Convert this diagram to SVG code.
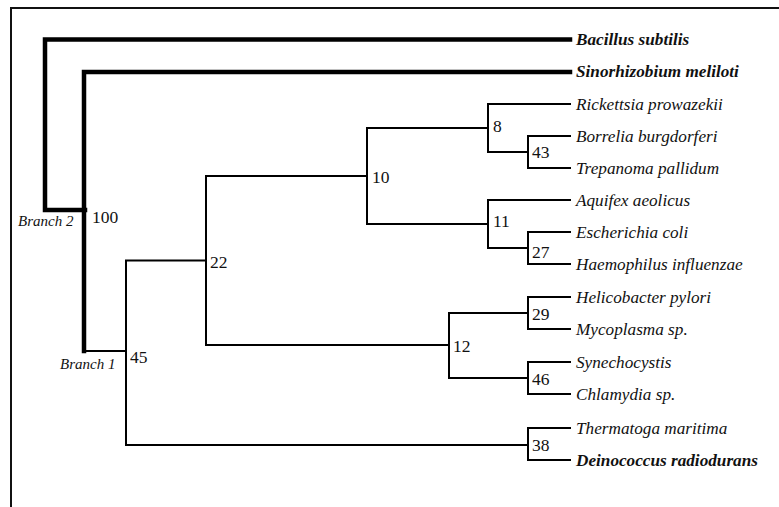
<svg xmlns="http://www.w3.org/2000/svg" width="779" height="507" viewBox="0 0 779 507">
<style>
.frame{fill:none;stroke:#111;stroke-width:2}
.thick{fill:none;stroke:#000;stroke-width:4.5;stroke-linecap:square;stroke-linejoin:miter}
.thin{fill:none;stroke:#000;stroke-width:2;stroke-linecap:square;stroke-linejoin:miter}
text{font-family:'Liberation Serif','Times New Roman',Times,'DejaVu Serif',serif;fill:#111}
.leaf{font-style:italic;font-size:17.2px}
.bold{font-weight:bold}
.num{font-size:17.5px}
.br{font-style:italic;font-size:15px}
</style>
<rect width="779" height="507" fill="#fff"/>
<path class="frame" d="M11,507 V8 H779"/>
<g id="connectors">
<path class="thick" d="M570,39.5 H45 V210 H85"/>
<path class="thick" d="M570,72 H84 V351"/>
<path class="thin" d="M85,351 H126"/>
<path class="thin" d="M206,260.5 H126 V445 H528"/>
<path class="thin" d="M367,176 H206 V345 H449"/>
<path class="thin" d="M488,128 H367 V224 H488"/>
<path class="thin" d="M570,104 H488 V152 H528"/>
<path class="thin" d="M570,136 H528 V168 H570"/>
<path class="thin" d="M570,200 H488 V248 H528"/>
<path class="thin" d="M570,232 H528 V264 H570"/>
<path class="thin" d="M528,313 H449 V378 H528"/>
<path class="thin" d="M570,297 H528 V329 H570"/>
<path class="thin" d="M570,362 H528 V394 H570"/>
<path class="thin" d="M570,428 H528 V460 H570"/>
</g>
<g id="leaf-bacillus"><text class="leaf bold" x="576" y="45">Bacillus subtilis</text></g>
<g id="leaf-sinorhizobium"><text class="leaf bold" x="576" y="77">Sinorhizobium meliloti</text></g>
<g id="leaf-rickettsia"><text class="leaf" x="576" y="110">Rickettsia prowazekii</text></g>
<g id="leaf-borrelia"><text class="leaf" x="576" y="142">Borrelia burgdorferi</text></g>
<g id="leaf-trepanoma"><text class="leaf" x="576" y="174">Trepanoma pallidum</text></g>
<g id="leaf-aquifex"><text class="leaf" x="576" y="206">Aquifex aeolicus</text></g>
<g id="leaf-escherichia"><text class="leaf" x="576" y="238">Escherichia coli</text></g>
<g id="leaf-haemophilus"><text class="leaf" x="576" y="270">Haemophilus influenzae</text></g>
<g id="leaf-helicobacter"><text class="leaf" x="576" y="303">Helicobacter pylori</text></g>
<g id="leaf-mycoplasma"><text class="leaf" x="576" y="335">Mycoplasma sp.</text></g>
<g id="leaf-synechocystis"><text class="leaf" x="576" y="368">Synechocystis</text></g>
<g id="leaf-chlamydia"><text class="leaf" x="576" y="400">Chlamydia sp.</text></g>
<g id="leaf-thermatoga"><text class="leaf" x="576" y="434">Thermatoga maritima</text></g>
<g id="leaf-deinococcus"><text class="leaf bold" x="576" y="466">Deinococcus radiodurans</text></g>
<g id="node-100"><text class="num" x="92" y="223">100</text></g>
<g id="node-45"><text class="num" x="130" y="363">45</text></g>
<g id="node-22"><text class="num" x="210" y="268">22</text></g>
<g id="node-10"><text class="num" x="372" y="183">10</text></g>
<g id="node-12"><text class="num" x="453" y="352">12</text></g>
<g id="node-8"><text class="num" x="493" y="132">8</text></g>
<g id="node-11"><text class="num" x="493" y="227">11</text></g>
<g id="node-43"><text class="num" x="532" y="158">43</text></g>
<g id="node-27"><text class="num" x="532" y="258">27</text></g>
<g id="node-29"><text class="num" x="532" y="320">29</text></g>
<g id="node-46"><text class="num" x="532" y="385">46</text></g>
<g id="node-38"><text class="num" x="532" y="451">38</text></g>
<g id="label-branch2"><text class="br" x="18" y="226">Branch 2</text></g>
<g id="label-branch1"><text class="br" x="60" y="369">Branch 1</text></g>
</svg>
